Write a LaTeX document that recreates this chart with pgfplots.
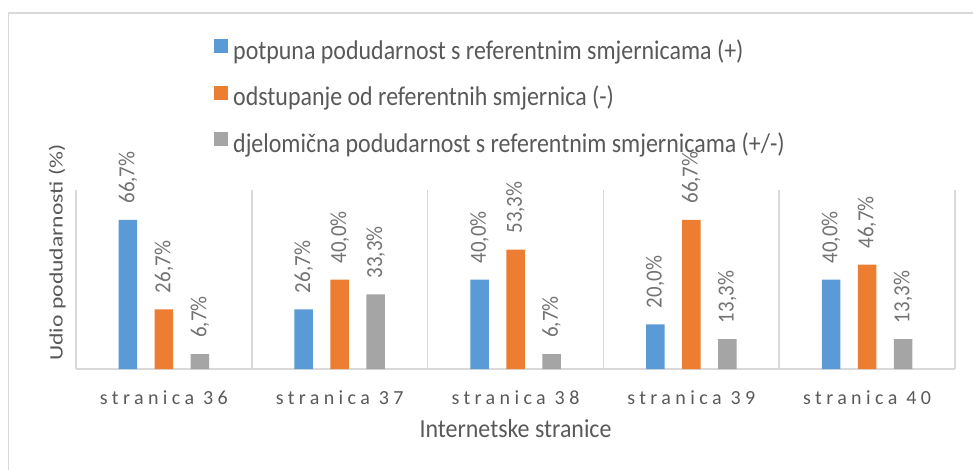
\documentclass[border=0pt]{standalone}
\usepackage{pgfplots}
\pgfplotsset{compat=1.18}
\usepackage{pgfplotstable}
\usepackage{fontspec}
\setmainfont{Carlito}
\newfontfamily\tickfont[LetterSpace=22]{Carlito}
\newfontfamily\legfont[FakeStretch=0.92]{Carlito}
\newfontfamily\lgfont[FakeStretch=0.886]{Carlito}
\newfontfamily\ylfont[FakeStretch=1.245]{Carlito}
\newfontfamily\dlfont[FakeStretch=0.91]{Carlito}
\definecolor{cblue}{HTML}{5B9BD5}
\definecolor{corange}{HTML}{ED7D31}
\definecolor{cgray}{HTML}{A5A5A5}
\definecolor{ctext}{HTML}{595959}
\definecolor{clabel}{HTML}{737373}
\definecolor{cline}{HTML}{D9D9D9}
\pgfplotstableread{
x b o g
0 66.7 26.7 6.7
1 26.7 40.0 33.3
2 40.0 53.3 6.7
3 20.0 66.7 13.3
4 40.0 46.7 13.3
}\datatable
\begin{document}
\begin{tikzpicture}
\useasboundingbox (0,0) rectangle (973bp,470bp);
\draw[cline, line width=1.5bp] (8.5bp,0) -- (8.5bp,457bp) -- (973bp,457bp);
\begin{axis}[
  at={(76bp,101bp)}, anchor=south west,
  scale only axis, width=879bp, height=179bp,
  xmin=-0.5, xmax=4.5, ymin=0, ymax=80,
  enlargelimits=false, clip=false,
  ybar, bar width=18.5bp,
  axis x line*=bottom, axis y line*=left,
  x axis line style={-, draw=cline, line width=1.5bp},
  y axis line style={draw=none},
  ytick=\empty,
  xtick={0,1,2,3,4},
  xticklabels={stranica 36,stranica 37,stranica 38,stranica 39,stranica 40},
  major tick length=0pt, minor tick length=0pt,
  minor xtick={-0.5,0.5,1.5,2.5,3.5,4.5},
  xminorgrids,
  minor grid style={draw=cline, line width=1.5bp},
  xticklabel style={font=\tickfont\fontsize{20bp}{23bp}\selectfont, text=ctext, anchor=base, yshift=-35bp},
  xlabel={Internetske stranice},
  xlabel style={font=\legfont\fontsize{26bp}{30bp}\selectfont, text=ctext, at={(axis description cs:0.5,0)}, anchor=base, yshift=-68bp},
  ylabel={Udio podudarnosti (\%)},
  ylabel style={font=\ylfont\fontsize{19bp}{22bp}\selectfont, text=ctext, at={(axis description cs:-0.0114,0.651)}, anchor=south, inner sep=0pt},
  nodes near coords={\pgfmathprintnumber[fixed,fixed zerofill,precision=1,use comma,assume math mode=true]{\pgfplotspointmeta}\%},
  nodes near coords style={font=\dlfont\fontsize{23bp}{26bp}\selectfont, text=clabel, rotate=90, anchor=west, inner sep=0pt, xshift=16bp},
  legend style={at={(axis description cs:0.157,1.8436)}, anchor=north west, draw=none, fill=none, inner sep=0pt,
    row sep=21.5bp, column sep=5bp,
    nodes={inner sep=0pt, text height=19bp, text depth=5bp, font=\lgfont\fontsize{27bp}{31bp}\selectfont, text=ctext}},
  legend cell align=left,
  legend image code/.code={\path[#1, draw=none] (0bp,-1bp) rectangle (14bp,13bp);},
]
\addplot[fill=cblue, draw=none, bar shift=-36bp] table[x=x, y=b] {\datatable};
\addplot[fill=corange, draw=none, bar shift=0bp] table[x=x, y=o] {\datatable};
\addplot[fill=cgray, draw=none, bar shift=36bp] table[x=x, y=g] {\datatable};
\legend{potpuna podudarnost s referentnim smjernicama (+), odstupanje od referentnih smjernica (-), djelomična podudarnost s referentnim smjernicama (+/-)}
\end{axis}
\end{tikzpicture}
\end{document}
